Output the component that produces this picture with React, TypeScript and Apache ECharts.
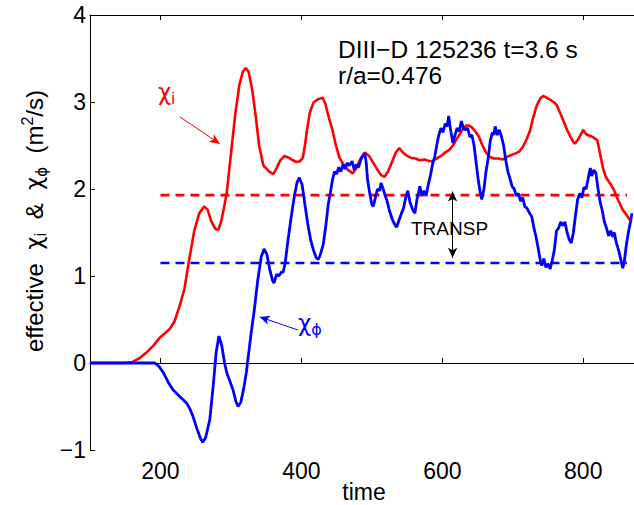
import React, { useEffect, useRef } from "react";
import * as echarts from "echarts";

const xTicks = [200, 400, 600, 800];
const yTicks = [-1, 0, 1, 2, 3, 4];

const chiI: [number, number][] = [
  [100, 0], [150, 0], [160, 0.01], [171, 0.06], [180, 0.12], [190, 0.2], [199, 0.29], [206, 0.34], [213, 0.39],
  [220, 0.48], [227, 0.65], [234, 0.85], [241, 1.2], [248, 1.52], [255, 1.72], [262, 1.8], [267, 1.76], [272, 1.63],
  [278, 1.54], [282, 1.53], [286, 1.62], [290, 1.78], [294, 1.95], [300, 2.4], [306, 2.85], [312, 3.2], [317, 3.35],
  [321, 3.39], [325, 3.35], [330, 3.15], [335, 2.85], [340, 2.5], [346, 2.27], [352, 2.22], [356, 2.19], [360, 2.17],
  [365, 2.24], [370, 2.33], [376, 2.38], [382, 2.36], [388, 2.33], [393, 2.31], [398, 2.32], [402, 2.36], [405, 2.5],
  [408, 2.68], [412, 2.88], [417, 2.99], [423, 3.03], [430, 3.05], [434, 2.98], [439, 2.82], [444, 2.68], [449, 2.5],
  [454, 2.36], [459, 2.29], [466, 2.22], [473, 2.18], [478, 2.24], [484, 2.35], [490, 2.42], [496, 2.38], [502, 2.3],
  [508, 2.22], [513, 2.16], [518, 2.14], [523, 2.2], [529, 2.32], [534, 2.42], [539, 2.47], [544, 2.42], [550, 2.38],
  [555, 2.36], [562, 2.35], [568, 2.33], [575, 2.34], [581, 2.32], [586, 2.32], [592, 2.35], [598, 2.38], [604, 2.42],
  [610, 2.45], [615, 2.5], [620, 2.57], [624, 2.62], [630, 2.7], [634, 2.73], [638, 2.73], [643, 2.7], [648, 2.65],
  [652, 2.6], [657, 2.5], [662, 2.42], [667, 2.37], [673, 2.35], [679, 2.35], [686, 2.34], [692, 2.37], [698, 2.39],
  [704, 2.41], [709, 2.43], [714, 2.48], [719, 2.56], [724, 2.66], [729, 2.82], [734, 2.96], [739, 3.04], [743, 3.07],
  [748, 3.05], [754, 3.02], [758, 3.0], [762, 2.97], [767, 2.88], [772, 2.78], [777, 2.68], [782, 2.6], [786, 2.54],
  [788, 2.52], [792, 2.56], [796, 2.62], [800, 2.68], [804, 2.63], [810, 2.61], [815, 2.59], [820, 2.56], [824, 2.4],
  [828, 2.24], [832, 2.14], [836, 2.09], [840, 2.04], [844, 1.98], [848, 1.9], [852, 1.83], [856, 1.76], [860, 1.72],
  [864, 1.67], [868, 1.63],
];

const chiPhi: [number, number][] = [
  [100, 0], [150, 0], [192, 0], [198, -0.04], [204, -0.11], [211, -0.22], [218, -0.31], [228, -0.39], [237, -0.46],
  [242, -0.53], [246, -0.61], [252, -0.76], [257, -0.87], [260, -0.91], [264, -0.86], [270, -0.65], [275, -0.25],
  [279, 0.12], [283, 0.31], [287, 0.2], [291, 0.0], [294, -0.11], [299, -0.22], [303, -0.31], [307, -0.44], [310, -0.5],
  [314, -0.45], [318, -0.3], [322, -0.1], [328, 0.3], [333, 0.6], [338, 0.95], [343, 1.22], [347, 1.31], [351, 1.25],
  [355, 1.08], [359, 0.95], [361, 0.92], [365, 1.02], [368, 1.0], [372, 1.05], [374, 1.04], [377, 1.15], [380, 1.35],
  [385, 1.65], [390, 1.92], [394, 2.08], [397, 2.13], [401, 2.05], [405, 1.82], [409, 1.6], [413, 1.42], [417, 1.3],
  [421, 1.21], [424, 1.19], [427, 1.25], [431, 1.36], [435, 1.6], [438, 1.82], [441, 1.95], [444, 2.1], [447, 2.2],
  [450, 2.17], [453, 2.25], [456, 2.2], [459, 2.28], [462, 2.23], [465, 2.3], [468, 2.27], [472, 2.32], [475, 2.22],
  [478, 2.28], [481, 2.25], [484, 2.33], [487, 2.38], [490, 2.41], [492, 2.3], [494, 2.1], [497, 1.95], [500, 1.82],
  [502, 1.8], [505, 1.9], [508, 2.0], [511, 1.98], [513, 2.07], [516, 2.0], [519, 1.92], [521, 1.88], [525, 1.75],
  [529, 1.65], [532, 1.6], [535, 1.56], [538, 1.63], [542, 1.72], [545, 1.78], [548, 1.9], [551, 1.98], [554, 1.85],
  [558, 1.76], [561, 1.72], [564, 1.88], [566, 1.95], [568, 2.03], [571, 1.93], [574, 1.98], [577, 1.92], [580, 2.05],
  [583, 2.15], [586, 2.28], [589, 2.36], [592, 2.5], [595, 2.62], [598, 2.7], [601, 2.65], [604, 2.75], [607, 2.72],
  [609, 2.84], [611, 2.72], [613, 2.62], [615, 2.53], [618, 2.62], [621, 2.7], [624, 2.66], [627, 2.78], [630, 2.7],
  [633, 2.68], [636, 2.7], [639, 2.6], [642, 2.62], [645, 2.5], [648, 2.3], [651, 2.1], [654, 1.95], [656, 1.88],
  [659, 2.0], [662, 2.2], [665, 2.35], [668, 2.55], [671, 2.65], [673, 2.62], [675, 2.72], [678, 2.62], [681, 2.68],
  [684, 2.6], [687, 2.5], [690, 2.33], [693, 2.2], [696, 2.12], [699, 2.03], [702, 2.0], [705, 1.92], [708, 1.95],
  [711, 1.86], [714, 1.9], [717, 1.8], [720, 1.78], [724, 1.72], [727, 1.68], [730, 1.55], [733, 1.45], [736, 1.32],
  [739, 1.18], [741, 1.12], [744, 1.2], [747, 1.1], [750, 1.14], [753, 1.08], [756, 1.18], [759, 1.3], [762, 1.52],
  [765, 1.55], [768, 1.62], [771, 1.58], [774, 1.62], [777, 1.5], [780, 1.42], [783, 1.38], [786, 1.5], [789, 1.7],
  [792, 1.88], [795, 1.95], [798, 1.9], [801, 2.02], [804, 2.0], [807, 2.12], [810, 2.24], [812, 2.15], [815, 2.22],
  [818, 2.18], [821, 2.0], [824, 1.85], [827, 1.75], [830, 1.62], [833, 1.55], [836, 1.46], [839, 1.52], [842, 1.45],
  [844, 1.5], [847, 1.38], [850, 1.3], [853, 1.2], [856, 1.09], [858, 1.15], [861, 1.35], [864, 1.5], [867, 1.62],
  [869, 1.72],
];

const transpChiI: [number, number][] = [[200, 1.93], [862, 1.93]];
const transpChiPhi: [number, number][] = [[200, 1.15], [862, 1.15]];

const arrowChiI: [number, number][] = [[227.4, 2.83], [284.1, 2.52]];
const arrowChiPhi: [number, number][] = [[394.8, 0.38], [340.9, 0.53]];
const arrowTransp: [number, number][] = [[614.6, 1.97], [614.6, 1.21]];

const FONT = "'Liberation Sans', Arial, Helvetica, sans-serif";
const GREEK = "'DejaVu Sans', 'Liberation Sans', sans-serif";
const RED = "#ff0000";
const BLUE = "#0000ff";

export default function App() {
  const ref = useRef<HTMLDivElement>(null);
  useEffect(() => {
    if (!ref.current) return;
    const chart = echarts.init(ref.current, undefined, { renderer: "svg" });
    const axisCommon = {
      type: "value" as const,
      min: 100,
      max: 872,
      axisLine: { show: true, lineStyle: { color: "#000", width: 1 } },
      splitLine: { show: false },
    };
    const mk = (pts: [number, number][], color: string, sym: any) => ({
      silent: true,
      symbol: sym,
      symbolSize: [7, 10],
      label: { show: false },
      lineStyle: { color, width: 1, type: "solid" },
      data: [[{ coord: pts[0] }, { coord: pts[1] }]],
    });
    chart.setOption({
      animation: false,
      backgroundColor: "#fff",
      grid: { left: 90, top: 15, bottom: 55, right: 0, containLabel: false },
      xAxis: [
        {
          ...axisCommon,
          position: "bottom",
          axisTick: { show: true, inside: true, length: 5, customValues: xTicks, lineStyle: { color: "#000" } },
          axisLabel: { show: true, customValues: xTicks, color: "#000", fontSize: 23, fontFamily: FONT, margin: 9 },
        },
        {
          ...axisCommon,
          position: "top",
          axisTick: { show: true, inside: true, length: 5, customValues: xTicks, lineStyle: { color: "#000" } },
          axisLabel: { show: false },
        },
      ],
      yAxis: {
        type: "value",
        min: -1,
        max: 4,
        interval: 1,
        axisLine: { show: true, lineStyle: { color: "#000", width: 1 } },
        axisTick: { show: true, inside: true, length: 5, lineStyle: { color: "#000" } },
        axisLabel: {
          color: "#000",
          fontSize: 23,
          fontFamily: FONT,
          margin: 4,
          formatter: (v: number) => (v < 0 ? "\u2212" + Math.abs(v) : String(v)),
        },
        splitLine: { show: false },
      },
      series: [
        {
          type: "line",
          data: transpChiI,
          showSymbol: false,
          lineStyle: { color: RED, width: 2.6, type: [9, 6] },
          silent: true,
        },
        {
          type: "line",
          data: transpChiPhi,
          showSymbol: false,
          lineStyle: { color: BLUE, width: 2.6, type: [9, 6] },
          silent: true,
        },
        {
          type: "line",
          data: chiI,
          showSymbol: false,
          lineStyle: { color: RED, width: 2.6 },
          silent: true,
          markLine: mk(arrowChiI, RED, ["none", "arrow"]),
        },
        {
          type: "line",
          data: chiPhi,
          showSymbol: false,
          lineStyle: { color: BLUE, width: 2.8 },
          silent: true,
          markLine: mk(arrowChiPhi, BLUE, ["none", "arrow"]),
        },
        {
          type: "line",
          data: [],
          silent: true,
          markLine: mk(arrowTransp, "#000", ["arrow", "arrow"]),
        },
      ],
      graphic: [
        {
          type: "text",
          left: 338,
          top: 36,
          style: {
            text: "DIII\u2212D 125236 t=3.6 s\nr/a=0.476",
            font: `24.5px ${FONT}`,
            fill: "#000",
            lineHeight: 26,
          },
        },
        {
          type: "text",
          left: 411,
          top: 219,
          style: { text: "TRANSP", font: `19px ${FONT}`, fill: "#000" },
        },
        {
          type: "text",
          left: 158,
          top: 80,
          style: {
            text: "{a|\u03c7}{b|i}",
            fill: RED,
            rich: {
              a: { fontSize: 23, fontFamily: GREEK, fill: RED, lineHeight: 30, verticalAlign: "middle" },
              b: { fontSize: 17, fontFamily: FONT, fill: RED, lineHeight: 20, verticalAlign: "bottom" },
            },
          },
        },
        {
          type: "text",
          left: 298,
          top: 311,
          style: {
            text: "{a|\u03c7}{b|\u03d5}",
            fill: BLUE,
            rich: {
              a: { fontSize: 23, fontFamily: GREEK, fill: BLUE, lineHeight: 30, verticalAlign: "middle" },
              b: { fontSize: 16, fontFamily: GREEK, fill: BLUE, lineHeight: 20, verticalAlign: "bottom" },
            },
          },
        },
        {
          type: "text",
          x: 34,
          y: 221,
          rotation: Math.PI / 2,
          style: {
            text: "{a|effective  }{g|\u03c7}{b|i}{a|  &  }{g|\u03c7}{p|\u03d5}{a|  (m}{c|2}{a|/s)}",
            align: "center",
            verticalAlign: "middle",
            fill: "#000",
            rich: {
              a: { fontSize: 24, fontFamily: FONT, fill: "#000", lineHeight: 30, verticalAlign: "middle" },
              g: { fontSize: 23, fontFamily: GREEK, fill: "#000", lineHeight: 30, verticalAlign: "middle" },
              b: { fontSize: 17, fontFamily: FONT, fill: "#000", lineHeight: 19, verticalAlign: "bottom" },
              p: { fontSize: 15, fontFamily: GREEK, fill: "#000", lineHeight: 19, verticalAlign: "bottom" },
              c: { fontSize: 16, fontFamily: FONT, fill: "#000", lineHeight: 19, verticalAlign: "top" },
            },
          },
        },
        {
          type: "text",
          x: 364,
          y: 492,
          style: { text: "time", font: `23px ${FONT}`, fill: "#000", align: "center", verticalAlign: "middle" },
        },
      ],
    });
    return () => chart.dispose();
  }, []);
  return (
    <div
      ref={ref}
      style={{ position: "absolute", left: 0, top: 0, width: 634, height: 505, background: "#fff" }}
    />
  );
}
